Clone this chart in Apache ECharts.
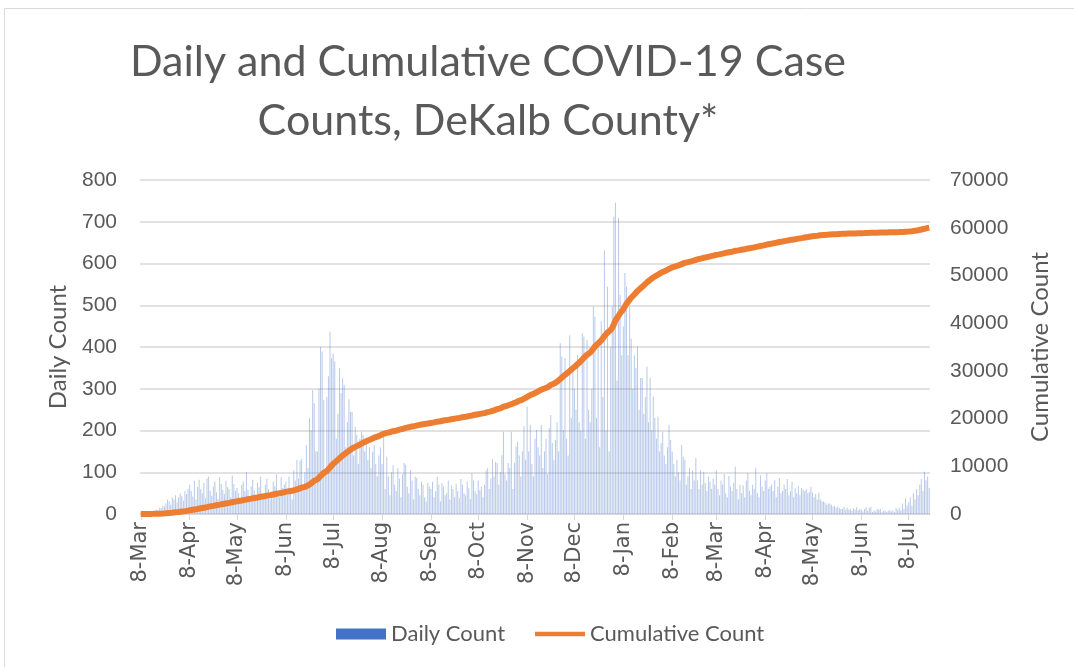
<!DOCTYPE html>
<html>
<head>
<meta charset="utf-8">
<script src="https://cdn.jsdelivr.net/npm/echarts@6/dist/echarts.min.js"></script>
<style>
html,body{margin:0;padding:0;background:#fff;}
#chart{width:1074px;height:667px;}
</style>
</head>
<body>
<div id="chart"></div>
<script>
// ---- Data ----
const START_DATE = [2020, 2, 8]; // 8-Mar-2020, first day of the series
const MONTHS = ['Jan','Feb','Mar','Apr','May','Jun','Jul','Aug','Sep','Oct','Nov','Dec'];
const TICK_LABELS = ['8-Mar','8-Apr','8-May','8-Jun','8-Jul','8-Aug','8-Sep','8-Oct','8-Nov','8-Dec','8-Jan','8-Feb','8-Mar','8-Apr','8-May','8-Jun','8-Jul'];

// Daily counts, one array per month period (8th to 7th)
const daily_2020_03 = [1,0,2,3,2,4,6,5,4,8,10,9,15,14,20,18,25,35,30,22,40,35,45,28,40,50,44,32,55,48,60];
const daily_2020_04 = [70,55,42,80,35,65,82,60,50,75,38,85,90,55,44,66,78,52,36,88,72,58,48,80,64,60,40,92,72,55];
const daily_2020_05 = [62,50,38,70,78,55,100,58,42,66,82,56,34,75,64,90,46,38,70,85,60,44,50,78,66,95,52,40,88,62,70];
const daily_2020_06 = [77,45,90,60,35,105,80,130,85,128,132,60,100,165,110,230,200,297,265,150,150,300,400,389,273,100,280,330,437,373];
const daily_2020_07 = [385,365,180,240,350,290,325,309,160,220,275,245,245,140,209,190,120,180,197,190,150,177,130,160,110,149,165,120,90,140,160];
const daily_2020_08 = [120,185,60,137,90,45,100,117,70,55,110,85,40,95,122,118,65,50,105,80,35,90,86,60,45,77,70,40,30,75,66];
const daily_2020_09 = [60,77,40,55,89,70,30,74,66,45,50,80,35,69,60,40,72,55,38,84,70,50,45,78,62,36,98,80,55,48];
const daily_2020_10 = [80,57,65,40,70,105,110,60,85,131,90,125,122,70,100,141,197,95,80,122,110,197,60,122,161,173,140,90,150,210,130];
const daily_2020_11 = [257,150,213,120,90,180,201,160,140,213,110,150,180,95,206,237,170,130,177,220,150,409,377,200,373,180,140,428,230,345];
const daily_2020_12 = [300,250,381,220,200,433,425,180,417,250,220,300,497,473,230,409,160,461,280,632,200,545,150,400,497,712,746,320,709,525,380];
const daily_2021_01 = [450,577,545,380,497,420,300,380,350,401,250,326,326,240,280,353,220,326,200,281,230,180,233,150,170,197,140,120,160,213,177];
const daily_2021_02 = [150,120,90,130,100,80,165,137,130,70,90,110,60,105,80,134,81,60,105,70,101,74,55,90,77,60,85,70];
const daily_2021_03 = [105,60,45,80,70,96,50,40,91,65,55,75,113,60,35,70,50,69,40,80,98,55,45,70,60,110,50,40,93,65,55];
const daily_2021_04 = [80,98,60,65,70,55,81,40,65,86,50,55,70,60,84,45,55,77,40,62,50,67,45,62,58,55,60,50,52,65];
const daily_2021_05 = [51,40,48,35,51,35,30,30,27,22,25,25,22,18,20,15,18,14,12,12,17,10,15,10,12,8,14,10,17,9,12];
const daily_2021_06 = [10,6,12,17,8,15,17,5,9,6,12,10,12,4,7,9,5,8,9,6,9,4,15,10,15,8,25,12,38,20];
const daily_2021_07 = [28,40,20,50,35,60,45,70,84,55,101,81,90,62];

// ---- Build series ----
const dailyCount = [].concat(daily_2020_03, daily_2020_04, daily_2020_05, daily_2020_06,
  daily_2020_07, daily_2020_08, daily_2020_09, daily_2020_10, daily_2020_11, daily_2020_12,
  daily_2021_01, daily_2021_02, daily_2021_03, daily_2021_04, daily_2021_05, daily_2021_06, daily_2021_07);

const categories = [];
const t0 = Date.UTC(START_DATE[0], START_DATE[1], START_DATE[2]);
for (let i = 0; i < dailyCount.length; i++) {
  const d = new Date(t0 + i * 86400000);
  categories.push(d.getUTCDate() + '-' + MONTHS[d.getUTCMonth()]);
}
const cumulativeCount = [];
let run = 0;
for (const v of dailyCount) { run += v; cumulativeCount.push(run); }

const tickSet = new Set(TICK_LABELS);
const isTick = (idx, val) => tickSet.has(val);

const chart = echarts.init(document.getElementById('chart'), null, {renderer: 'canvas'});
const GRAY = '#595959';
const FONT = 'Lato';
chart.setOption({
  animation: false,
  backgroundColor: '#fff',
  graphic: [
    {type: 'rect', shape: {x: 4.5, y: 8.5, width: 1080, height: 680}, style: {fill: 'none', stroke: '#d9d9d9', lineWidth: 1}, silent: true},
    {type: 'text', x: 488, y: 41, style: {text: 'Daily and Cumulative COVID-19 Case', textAlign: 'center', textVerticalAlign: 'top', font: '43px Lato', fill: GRAY}},
    {type: 'text', x: 488, y: 100, style: {text: 'Counts, DeKalb County*', textAlign: 'center', textVerticalAlign: 'top', font: '43px Lato', fill: GRAY}}
  ],
  legend: {
    top: 618, left: 331,
    itemWidth: 50, itemHeight: 11, itemGap: 30,
    textStyle: {fontFamily: FONT, fontSize: 22, color: GRAY},
    data: [
      {name: 'Daily Count', icon: 'rect', itemStyle: {color: '#4472C4'}},
      {name: 'Cumulative Count', icon: 'path://M0,0 L0,0.01 M0,3 L55,3 L55,8 L0,8 Z M55,11 L55,11.01'}
    ]
  },
  grid: {left: 140, right: 144, top: 180, bottom: 153, containLabel: false},
  xAxis: {
    type: 'category',
    data: categories,
    boundaryGap: true,
    axisLine: {lineStyle: {color: '#d9d9d9', width: 1}},
    axisTick: {show: true, alignWithLabel: true, interval: isTick, length: 6, lineStyle: {color: '#d9d9d9'}},
    axisLabel: {interval: isTick, rotate: 90, margin: 8, fontFamily: 'DejaVu Sans', fontSize: 21, color: GRAY},
    splitLine: {show: false}
  },
  yAxis: [
    {
      type: 'value', min: 0, max: 800, interval: 100,
      name: 'Daily Count', nameLocation: 'middle', nameGap: 70, nameRotate: 90,
      nameTextStyle: {fontFamily: FONT, fontSize: 24, color: GRAY},
      axisLine: {show: false}, axisTick: {show: false},
      axisLabel: {margin: 23, fontFamily: 'Liberation Sans', fontSize: 21, color: GRAY},
      splitLine: {lineStyle: {color: '#d9d9d9', width: 1.5}}
    },
    {
      type: 'value', min: 0, max: 70000, interval: 10000,
      name: 'Cumulative Count', nameLocation: 'middle', nameGap: 98, nameRotate: 90,
      nameTextStyle: {fontFamily: FONT, fontSize: 24, color: GRAY},
      axisLine: {show: false}, axisTick: {show: false},
      axisLabel: {margin: 20, fontFamily: 'Liberation Sans', fontSize: 21, color: GRAY, formatter: v => String(v)},
      splitLine: {show: false}
    }
  ],
  series: [
    {
      name: 'Daily Count', type: 'bar', data: dailyCount, yAxisIndex: 0,
      barWidth: 1,
      itemStyle: {color: 'rgba(68,114,196,0.38)'}
    },
    {
      name: 'Cumulative Count', type: 'line', data: cumulativeCount, yAxisIndex: 1,
      showSymbol: false, symbol: 'none',
      itemStyle: {color: '#ED7D31'},
      lineStyle: {color: '#ED7D31', width: 6}
    }
  ]
});
</script>
</body>
</html>
